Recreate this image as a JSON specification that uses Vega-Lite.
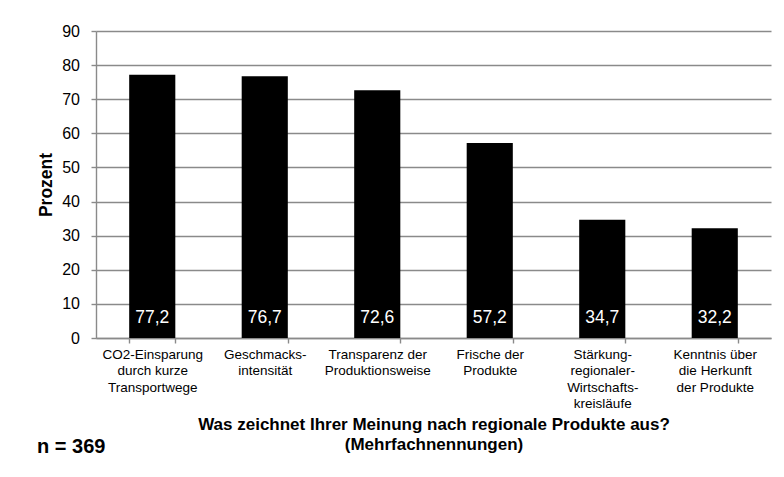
{
  "$schema": "https://vega.github.io/schema/vega-lite/v6.json",
  "width": 675,
  "height": 307,
  "autosize": {"type": "none"},
  "padding": {"left": 96, "top": 31, "right": 13, "bottom": 139},
  "background": "white",
  "config": {
    "locale": {"number": {"decimal": ",", "thousands": ".", "grouping": [3], "currency": ["", " €"]}},
    "font": "Liberation Sans",
    "view": {"stroke": null},
    "axis": {
      "domainColor": "#8a8a8a",
      "domainWidth": 1.4,
      "tickColor": "#8a8a8a",
      "tickWidth": 1.4,
      "tickSize": 5,
      "gridColor": "#8a8a8a",
      "gridWidth": 1.4,
      "labelColor": "#000000",
      "titleColor": "#000000",
      "labelFont": "Liberation Sans",
      "titleFont": "Liberation Sans"
    },
    "axisY": {
      "values": [0, 10, 20, 30, 40, 50, 60, 70, 80, 90],
      "labelOverlap": false,
      "grid": true,
      "titleFontSize": 17.5,
      "titleFontWeight": "bold",
      "titlePadding": 6,
      "labelFontSize": 16,
      "labelPadding": 11.5
    }
  },
  "title": {
    "text": "n = 369",
    "orient": "bottom",
    "anchor": "start",
    "frame": "group",
    "fontSize": 20,
    "fontWeight": "bold",
    "color": "#000000",
    "font": "Liberation Sans",
    "dx": -59,
    "dy": -19
  },
  "data": {
    "values": [
      {"kategorie": "CO2-Einsparung|durch kurze|Transportwege", "prozent": 77.2},
      {"kategorie": "Geschmacks-|intensität", "prozent": 76.7},
      {"kategorie": "Transparenz der|Produktionsweise", "prozent": 72.6},
      {"kategorie": "Frische der|Produkte", "prozent": 57.2},
      {"kategorie": "Stärkung-|regionaler-|Wirtschafts-|kreisläufe", "prozent": 34.7},
      {"kategorie": "Kenntnis über|die Herkunft|der Produkte", "prozent": 32.2}
    ]
  },
  "encoding": {
    "x": {
      "field": "kategorie",
      "type": "nominal",
      "sort": null,
      "scale": {"paddingInner": 0.59, "paddingOuter": 0.295},
      "axis": {
        "title": ["Was zeichnet Ihrer Meinung nach regionale Produkte aus?", "(Mehrfachnennungen)"],
        "titleFontSize": 17,
        "titleFontWeight": "bold",
        "titleLineHeight": 20,
        "titlePadding": 6,
        "labelAngle": 0,
        "labelAlign": "center",
        "labelBaseline": "top",
        "labelFontSize": 13.5,
        "labelLineHeight": 16.5,
        "labelPadding": 4,
        "labelExpr": "split(datum.label, '|')",
        "tickBand": "extent",
        "grid": false
      }
    }
  },
  "layer": [
    {
      "mark": {"type": "bar", "color": "#000000"},
      "encoding": {
        "y": {
          "field": "prozent",
          "type": "quantitative",
          "title": "Prozent",
          "scale": {"domain": [0, 90], "nice": false}
        }
      }
    },
    {
      "mark": {"type": "text", "color": "#ffffff", "fontSize": 17.5, "baseline": "alphabetic", "dy": -15, "font": "Liberation Sans"},
      "encoding": {
        "y": {"datum": 0, "type": "quantitative"},
        "text": {"field": "prozent", "type": "quantitative", "format": ".1f"}
      }
    }
  ]
}
